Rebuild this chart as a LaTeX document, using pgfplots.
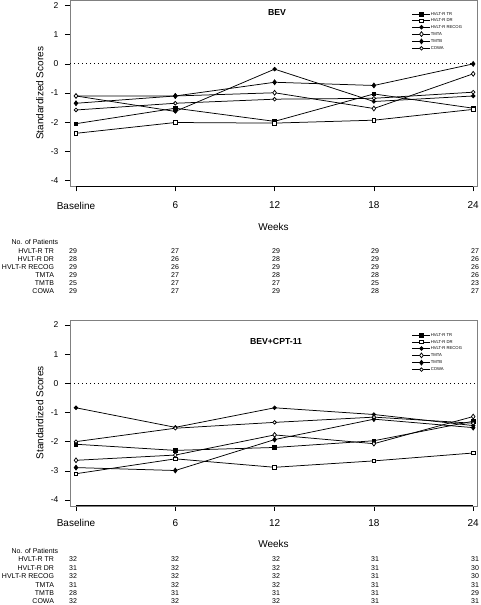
\documentclass[border=0pt]{standalone}
\usepackage{pgfplots}
\pgfplotsset{compat=1.18}
\usepackage{fontspec}
\setmainfont{Liberation Sans}

\pgfplotsset{
  panel/.style={
    scale only axis, width=407pt, height=186.1pt,
    xmin=-0.3625, xmax=24.23, ymin=-4.2, ymax=2.18,
    axis line style={draw=black!50},
    xtick={0,6,12,18,24}, xticklabels={Baseline,6,12,18,24},
    ytick={-4,-3,-2,-1,0,1,2}, yticklabels={-4,-3,-2,-1,0,1,2},
    tick align=outside, xtick pos=bottom, ytick pos=left,
    major tick length=5pt,
    tick style={black, line width=0.6pt},
    x tick label style={font=\fontsize{10}{12}\selectfont},
    y tick label style={font=\fontsize{8.5}{10}\selectfont, xshift=-3pt},
    ylabel={Standardized Scores},
    every axis y label/.style={at={(axis description cs:-0.074,0.5)}, rotate=90, anchor=center, font=\fontsize{10}{12}\selectfont},
    clip=false,
    every axis plot/.append style={black, line width=0.75pt, mark options={solid, line width=0.5pt}},
    legend style={at={(axis description cs:0.840,0.937)}, anchor=north west, draw=none, fill=none,
      inner sep=0pt, font=\fontsize{4.2}{5}\selectfont, row sep=2.5pt,
      nodes={inner sep=0pt, text height=3.2pt, text depth=0.8pt},
      /tikz/every even column/.append style={column sep=2pt}},
    legend cell align=left,
    legend image code/.code={\draw[mark repeat=2,mark phase=2,##1] plot coordinates {(0pt,0pt) (9pt,0pt) (18pt,0pt)};},
  },
  sTR/.style={mark=square*, mark size=1.8pt, mark options={fill=black}},
  sDR/.style={mark=square*, mark size=1.8pt, mark options={fill=white}},
  sRE/.style={mark=*, mark size=1.8pt, mark options={fill=black}},
  sTA/.style={mark=diamond*, mark size=2.4pt, mark options={fill=white}},
  sTB/.style={mark=diamond*, mark size=2.4pt, mark options={fill=black}},
  sCO/.style={mark=*, mark size=1.8pt, mark options={fill=white}},
}

\newcommand{\rowlabels}[2]{% #1 header y, #2 first row y ; rows spacing handled separately
}

\begin{document}
\begin{tikzpicture}
\useasboundingbox (0pt,0pt) rectangle (480pt,-605pt);

% ---------------- Top panel: BEV ----------------
\begin{axis}[panel, at={(70pt,-0.3pt)}, anchor=north west,
  x tick label style={yshift=-7pt}]
\draw[black, line width=0.7pt] (axis cs:0,-4.2) -- (axis cs:24,-4.2);
\draw[black, line width=0.8pt, dash pattern=on 1.3pt off 2.7pt] (axis cs:-0.3625,0) -- (axis cs:24.23,0);
\addplot[sTR] coordinates {(0,-2.05) (6,-1.52) (12,-1.97) (18,-1.03) (24,-1.52)};
\addlegendentry{HVLT-R TR}
\addplot[sDR] coordinates {(0,-2.38) (6,-2.01) (12,-2.03) (18,-1.93) (24,-1.56)};
\addlegendentry{HVLT-R DR}
\addplot[sRE] coordinates {(0,-1.10) (6,-1.63) (12,-0.18) (18,-1.29) (24,-1.10)};
\addlegendentry{HVLT-R RECOG}
\addplot[sTA] coordinates {(0,-1.10) (6,-1.10) (12,-0.99) (18,-1.53) (24,-0.34)};
\addlegendentry{TMTA}
\addplot[sTB] coordinates {(0,-1.35) (6,-1.10) (12,-0.63) (18,-0.74) (24,0.00)};
\addlegendentry{TMTB}
\addplot[sCO] coordinates {(0,-1.58) (6,-1.35) (12,-1.21) (18,-1.18) (24,-0.97)};
\addlegendentry{COWA}
\end{axis}
\node[font=\bfseries\fontsize{8.7}{10}\selectfont] at (277pt,-12.7pt) {BEV};
\node[font=\fontsize{10}{12}\selectfont] at (273.5pt,-227.3pt) {Weeks};
\begin{scope}[font=\fontsize{7}{8}\selectfont]
\node[anchor=west] at (8pt,-242.3pt) {No. of Patients};
\foreach \lab [count=\i from 0] in {HVLT-R TR,HVLT-R DR,HVLT-R RECOG,TMTA,TMTB,COWA}
  \node[anchor=east] at (57.5pt,-251pt-8.1pt*\i) {\lab};
\foreach \a/\b/\c/\d/\e [count=\i from 0] in {29/27/29/29/27,28/26/28/29/26,29/26/29/29/26,29/27/28/28/26,25/27/27/25/23,29/27/29/28/27}{
  \node at (73pt,-251pt-8.1pt*\i) {\a};
  \node at (175pt,-251pt-8.1pt*\i) {\b};
  \node at (276pt,-251pt-8.1pt*\i) {\c};
  \node at (375pt,-251pt-8.1pt*\i) {\d};
  \node at (475pt,-251pt-8.1pt*\i) {\e};
}
\end{scope}

% ---------------- Bottom panel: BEV+CPT-11 ----------------
\begin{axis}[panel, at={(70pt,-319.7pt)}, anchor=north west,
  x tick label style={yshift=-5pt},
  legend style={at={(axis description cs:0.840,0.927)}}]
\draw[black, line width=0.7pt] (axis cs:0,-4.2) -- (axis cs:24,-4.2);
\draw[black, line width=0.8pt, dash pattern=on 1.3pt off 2.7pt] (axis cs:-0.3625,0) -- (axis cs:24.23,0);
\addplot[sTR] coordinates {(0,-2.09) (6,-2.30) (12,-2.20) (18,-1.97) (24,-1.30)};
\addlegendentry{HVLT-R TR}
\addplot[sDR] coordinates {(0,-3.10) (6,-2.59) (12,-2.88) (18,-2.66) (24,-2.39)};
\addlegendentry{HVLT-R DR}
\addplot[sRE] coordinates {(0,-0.84) (6,-1.51) (12,-0.84) (18,-1.07) (24,-1.45)};
\addlegendentry{HVLT-R RECOG}
\addplot[sTA] coordinates {(0,-2.64) (6,-2.46) (12,-1.77) (18,-2.07) (24,-1.14)};
\addlegendentry{TMTA}
\addplot[sTB] coordinates {(0,-2.89) (6,-2.99) (12,-1.93) (18,-1.23) (24,-1.52)};
\addlegendentry{TMTB}
\addplot[sCO] coordinates {(0,-2.00) (6,-1.54) (12,-1.34) (18,-1.16) (24,-1.37)};
\addlegendentry{COWA}
\end{axis}
\node[font=\bfseries\fontsize{8.7}{10}\selectfont] at (276pt,-341.7pt) {BEV+CPT-11};
\node[font=\fontsize{10}{12}\selectfont] at (273.5pt,-544.3pt) {Weeks};
\begin{scope}[font=\fontsize{7}{8}\selectfont]
\node[anchor=west] at (8pt,-551pt) {No. of Patients};
\foreach \lab [count=\i from 0] in {HVLT-R TR,HVLT-R DR,HVLT-R RECOG,TMTA,TMTB,COWA}
  \node[anchor=east] at (57.5pt,-559.3pt-8.45pt*\i) {\lab};
\foreach \a/\b/\c/\d/\e [count=\i from 0] in {32/32/32/31/31,31/32/32/31/30,32/32/32/31/30,31/32/32/31/31,28/31/31/31/29,32/32/32/31/31}{
  \node at (73pt,-559.3pt-8.45pt*\i) {\a};
  \node at (175pt,-559.3pt-8.45pt*\i) {\b};
  \node at (276pt,-559.3pt-8.45pt*\i) {\c};
  \node at (375pt,-559.3pt-8.45pt*\i) {\d};
  \node at (475pt,-559.3pt-8.45pt*\i) {\e};
}
\end{scope}
\end{tikzpicture}
\end{document}
